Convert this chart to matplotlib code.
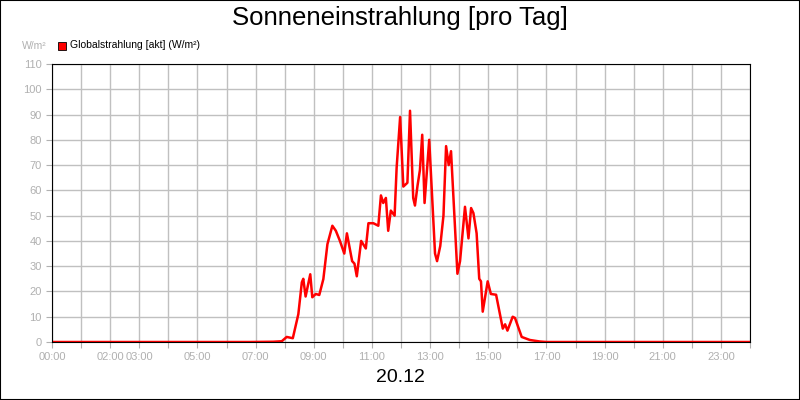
import matplotlib
matplotlib.use('Agg')
from matplotlib import pyplot as plt
from matplotlib.patches import Rectangle

plt.rcParams['font.family'] = ['Liberation Sans', 'DejaVu Sans']

# hours of day and radiation values (W/m²)
hours = [0, 6.8, 7.6, 7.9, 8.07, 8.28, 8.47, 8.59, 8.64, 8.72, 8.88, 8.95, 9.07, 9.19, 9.33, 9.47,
         9.64, 9.76, 9.90, 10.05, 10.14, 10.32, 10.40, 10.48, 10.63, 10.79, 10.88, 11.05, 11.22,
         11.31, 11.39, 11.48, 11.56, 11.65, 11.78, 11.85, 11.97, 12.08, 12.22, 12.31, 12.42, 12.48,
         12.57, 12.65, 12.73, 12.81, 12.97, 13.17, 13.24, 13.35, 13.46, 13.55, 13.64, 13.72, 13.94,
         14.03, 14.20, 14.32, 14.41, 14.49, 14.60, 14.69, 14.75, 14.81, 14.98, 15.09, 15.27, 15.50,
         15.58, 15.66, 15.84, 15.92, 16.15, 16.43, 16.77, 17.0, 24.0]
values = [0, 0, 0.1, 0.3, 2, 1.5, 11, 23.6, 25, 18, 26.8, 17.7, 19, 18.6, 24.9, 38.7,
          46, 44, 40, 35, 43, 32, 31, 26, 40, 37, 47, 47, 46,
          58, 55, 57, 44, 52, 50, 69, 89, 61.5, 63, 91.5, 57, 54,
          62, 68, 82, 55, 80, 35, 32, 38, 50, 77.5, 70, 75.5, 27,
          32, 53.5, 41, 53, 51, 43, 25, 24, 12, 24, 19, 18.7, 5.3,
          7, 4.5, 10, 9.5, 2, 0.8, 0.2, 0, 0]

tick_hours = [0, 2, 3, 5, 7, 9, 11, 13, 15, 17, 19, 21, 23]
y_ticks = list(range(0, 111, 10))

fig = plt.figure(figsize=(8, 4), dpi=100)
fig.patches.append(Rectangle((0, 0), 1, 1, transform=fig.transFigure, fill=False,
                             edgecolor='black', linewidth=1.5))
ax = fig.add_axes([0.065, 0.145, 0.8725, 0.695])

ax.plot(hours, values, color='#ff0000', linewidth=1.8, label='Globalstrahlung [akt] (W/m²)')
ax.set_xlim(0, 24)
ax.set_ylim(0, 110)
ax.set_xticks(range(0, 25))
ax.set_xticklabels(['%02d:00' % h if h in tick_hours else '' for h in range(0, 25)])
ax.set_yticks(y_ticks)
ax.grid(True, color='#c0c0c0', linewidth=1)
ax.set_axisbelow(True)
ax.tick_params(colors='#b0b0b0', labelsize=8, length=4)
for s in ax.spines.values():
    s.set_color('black')

fig.text(0.5, 0.955, 'Sonneneinstrahlung [pro Tag]', ha='center', va='center', fontsize=18.5)
fig.text(0.5, 0.057, '20.12', ha='center', va='center', fontsize=14)
fig.text(0.028, 0.885, 'W/m²', color='#b0b0b0', fontsize=7.5, va='center')
fig.patches.append(Rectangle((0.073, 0.876), 0.009, 0.02, transform=fig.transFigure,
                             facecolor='#ff0000', edgecolor='black', linewidth=0.6))
fig.text(0.087, 0.887, 'Globalstrahlung [akt] (W/m²)', fontsize=7.5, va='center')

fig.savefig('out.png', dpi=100)
